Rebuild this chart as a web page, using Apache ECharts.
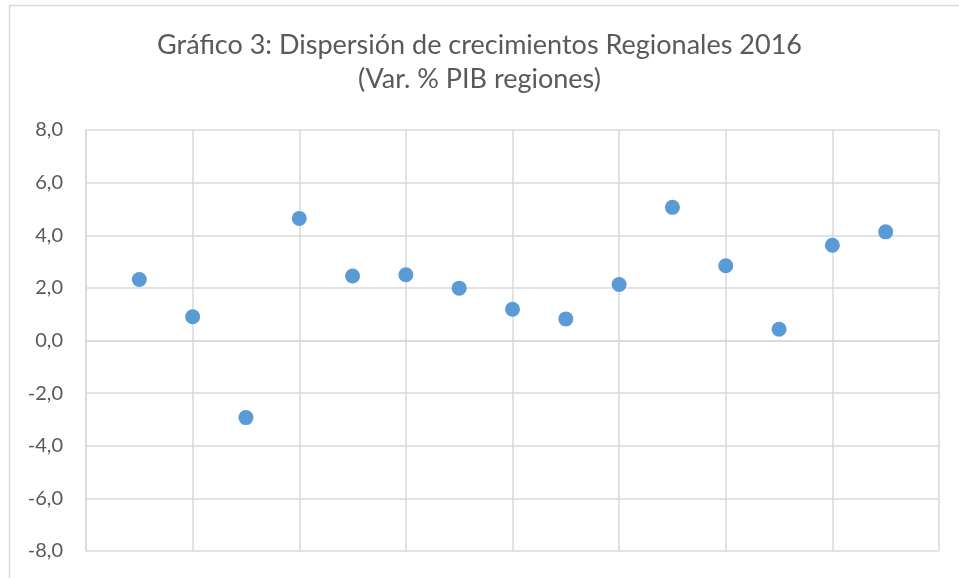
<!DOCTYPE html>
<html>
<head>
<meta charset="utf-8">
<script src="https://cdn.jsdelivr.net/npm/echarts@6/dist/echarts.min.js"></script>
<style>
    html, body { margin: 0; padding: 0; background: #fff; }
    #main { width: 959px; height: 578px; }
</style>
</head>
<body>
<div id="main"></div>
<script>
// región (1..15) y variación % del PIB 2016
var regiones = [1, 2, 3, 4, 5, 6, 7, 8, 9, 10, 11, 12, 13, 14, 15];
var variacion = [2.32, 0.90, -2.93, 4.64, 2.45, 2.50, 1.99, 1.19, 0.82, 2.13, 5.06, 2.84, 0.43, 3.62, 4.13];
var titulo = 'Gráfico 3: Dispersión de crecimientos Regionales 2016\n(Var. % PIB regiones)';

var puntos = regiones.map(function (r, i) { return [r, variacion[i]]; });

var myChart = echarts.init(document.getElementById('main'));
var gris = '#d9d9d9';
var fuente = 'Lato';
myChart.setOption({
    animation: false,
    title: {
        text: titulo,
        left: 'center',
        top: 23,
        padding: [5, 5, 5, 19],  // empuja el título ~7px a la derecha
        textStyle: {
            color: '#595959',
            fontFamily: fuente,
            fontWeight: 'normal',
            fontSize: 27,
            lineHeight: 34
        }
    },
    graphic: [{
        type: 'rect',
        shape: { x: 9.5, y: 5.5, width: 1000, height: 1000 },
        style: { fill: 'none', stroke: gris, lineWidth: 1.5 },
        silent: true
    }],
    grid: { left: 86, top: 130, right: 20, bottom: 27 },
    xAxis: {
        type: 'value',
        min: 0,
        max: 16,
        interval: 2,
        axisLine: { show: true, lineStyle: { color: gris, width: 1.5 } },
        axisTick: { show: false },
        axisLabel: { show: false },
        splitLine: { show: true, lineStyle: { color: gris, width: 1.5 } }
    },
    yAxis: {
        type: 'value',
        min: -8,
        max: 8,
        interval: 2,
        axisLine: { show: true, onZero: false, lineStyle: { color: gris, width: 1.5 } },
        axisTick: { show: false },
        axisLabel: {
            color: '#595959',
            fontFamily: fuente,
            fontSize: 20,
            margin: 23,
            formatter: function (v) { return v.toFixed(1).replace('.', ','); }
        },
        splitLine: { show: true, lineStyle: { color: gris, width: 1.5 } }
    },
    series: [{
        type: 'scatter',
        symbolSize: 15,
        itemStyle: { color: '#5b9bd5', opacity: 1 },
        data: puntos
    }]
});
</script>
</body>
</html>
